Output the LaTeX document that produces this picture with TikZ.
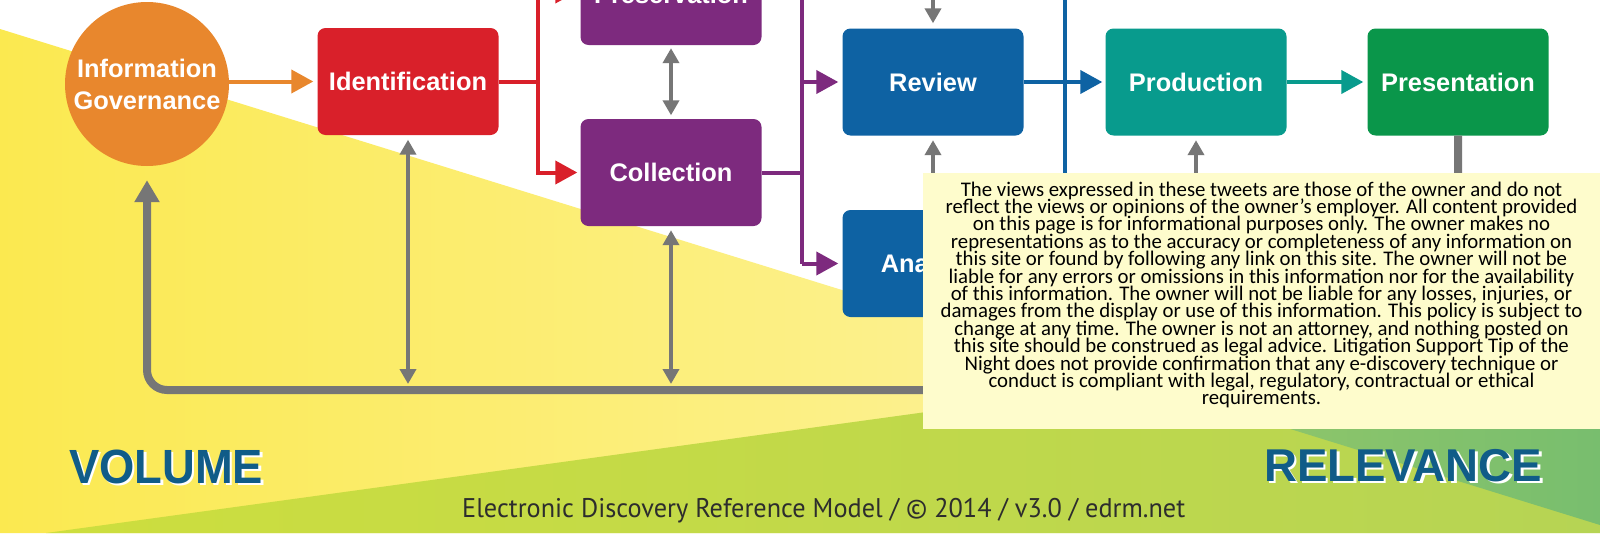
\documentclass[tikz,border=0pt]{standalone}
\usepackage{fontspec}
\usepackage{graphicx}
\usetikzlibrary{arrows.meta}
\newfontfamily\lblfont{Liberation Sans}
\newfontfamily\discfont{Carlito}
\newfontfamily\footfont{PT Sans}
\definecolor{igorange}{RGB}{232,135,45}
\definecolor{idred}{RGB}{217,32,42}
\definecolor{purp}{RGB}{125,42,126}
\definecolor{revblue}{RGB}{14,98,163}
\definecolor{prodteal}{RGB}{8,155,141}
\definecolor{presgreen}{RGB}{10,150,74}
\definecolor{lgray}{RGB}{118,118,118}
\definecolor{yelL}{RGB}{251,233,80}
\definecolor{yelR}{RGB}{253,246,185}
\definecolor{limeL}{RGB}{205,222,62}
\definecolor{limeR}{RGB}{182,212,84}
\definecolor{dgL}{RGB}{150,200,105}
\definecolor{dgR}{RGB}{120,190,110}
\definecolor{discbg}{RGB}{254,252,204}
\definecolor{volblue}{RGB}{16,92,136}
\definecolor{footgray}{RGB}{45,45,45}
\lineskiplimit=-100pt
\begin{document}
\begin{tikzpicture}[x=1pt,y=-1pt,
  stagebox/.style={rectangle, rounded corners=8pt, minimum width=181pt, minimum height=107pt,
    inner sep=0pt, text=white, text height=18pt, text depth=0pt,
    font=\lblfont\bfseries\fontsize{25.4}{30}\selectfont},
  conn/.style={line width=4pt, -{Triangle[length=22pt,width=23pt]}, shorten >=4pt},
  plainline/.style={line width=4pt},
  garrow/.style={line width=4pt, draw=lgray, {Triangle[length=15pt,width=16pt]}-{Triangle[length=15pt,width=16pt]}},
  gup/.style={line width=4pt, draw=lgray, -{Triangle[length=15pt,width=16pt]}},
  loopline/.style={line width=8pt, draw=lgray, rounded corners=20pt, -{Triangle[length=22pt,width=24pt]}},
  bigword/.style={anchor=base west, inner sep=0pt}
]
\useasboundingbox (0,0) rectangle (1600,533);
\clip (0,0) rectangle (1600,533);
% background
\fill[white] (0,0) rectangle (1600,533);
\shade[left color=yelL, right color=yelR] (0,29) -- (1600,525) -- (1600,533) -- (0,533) -- cycle;
\shade[left color=limeL, right color=limeR] (46,533) -- (1600,319.4) -- (1600,533) -- cycle;
\shade[left color=dgL, right color=dgR] (1139.4,382.2) -- (1600,319.4) -- (1600,525) -- cycle;

% nodes
\node[circle, fill=igorange, minimum size=164pt, inner sep=0pt, text=white, align=center,
  font=\lblfont\bfseries\fontsize{25.4}{32}\selectfont] (ig) at (147,84) {Information\\Governance};
\node[stagebox, fill=idred] (ident) at (408,81.5) {Identification};
\node[stagebox, fill=purp, text height=24pt] (pres) at (671,-8.5) {Preservation};
\node[stagebox, fill=purp] (coll) at (671,172.5) {Collection};
\node[stagebox, fill=revblue] (rev) at (933,82) {Review};
\node[stagebox, fill=revblue] (ana) at (933,263.5) {Analysis};
\node[stagebox, fill=prodteal] (prod) at (1196,82) {Production};
\node[stagebox, fill=presgreen] (prest) at (1458,82) {Presentation};

% coordinates
\coordinate (rj) at (538,81.5);
\coordinate (pj) at (802,172.5);
\coordinate (ptop) at (802,-30);
\coordinate (pbot) at (802,263.5);
\coordinate (btop) at (1065,-30);
\coordinate (bbot) at (1065,263.5);
\coordinate (revtop) at (933,-30);
\coordinate (lb) at (147,390);
\coordinate (b1) at (408,390);
\coordinate (b2) at (671,390);
\coordinate (b4) at (1196,390);

% big feedback loop
\draw[loopline, shorten >=14pt] (prest.south) |- (lb) -- (ig.south);

% orange
\draw[conn, draw=igorange, -{Triangle[length=22pt,width=23pt,fill=igorange]}] (ig.east |- ident.west) -- (ident.west);
% red
\draw[plainline, draw=idred] (ident.east) -- (rj);
\draw[conn, draw=idred, -{Triangle[length=22pt,width=23pt,fill=idred]}, shorten >=3pt] (rj) |- (pres.west);
\draw[conn, draw=idred, -{Triangle[length=22pt,width=23pt,fill=idred]}, shorten >=3pt] (rj) |- (coll.west);
% purple
\draw[plainline, draw=purp] (coll.east) -- (pj);
\draw[plainline, draw=purp] (ptop) -- (pbot);
\draw[conn, draw=purp] (pj |- rev.west) -- (rev.west);
\draw[conn, draw=purp] (pbot) -- (ana.west);
% blue
\draw[conn, draw=revblue, shorten >=3pt] (rev.east) -- (prod.west);
\draw[plainline, draw=revblue] (btop) -- (bbot) -- (ana.east);
% teal
\draw[conn, draw=prodteal] (prod.east) -- (prest.west);

% gray arrows
\draw[garrow, shorten <=3pt, shorten >=3.5pt] (pres.south) -- (coll.north);
\draw[garrow, shorten <=4.5pt, shorten >=6pt] (ident.south) -- (b1);
\draw[garrow, shorten <=4pt, shorten >=6pt] (coll.south) -- (b2);
\draw[gup, shorten >=5pt] (revtop) -- (rev.north);
\draw[garrow, shorten <=4.5pt, shorten >=4pt] (rev.south) -- (ana.north);
\draw[gup, shorten >=4.5pt] (b4) -- (prod.south);

% disclaimer
\node[fill=discbg, minimum width=677pt, minimum height=256pt, inner sep=0pt, anchor=north west] (discbox) at (923,173) {};
\node[font=\discfont\fontsize{20.8}{17.4}\selectfont, align=center, inner sep=0pt, text=black] (disc) at (1261.5,295) {%
The views expressed in these tweets are those of the owner and do not\\
reflect the views or opinions of the owner’s employer. All content provided\\
on this page is for informational purposes only. The owner makes no\\
representations as to the accuracy or completeness of any information on\\
this site or found by following any link on this site. The owner will not be\\
liable for any errors or omissions in this information nor for the availability\\
of this information. The owner will not be liable for any losses, injuries, or\\
damages from the display or use of this information. This policy is subject to\\
change at any time. The owner is not an attorney, and nothing posted on\\
this site should be construed as legal advice. Litigation Support Tip of the\\
Night does not provide confirmation that any e-discovery technique or\\
conduct is compliant with legal, regulatory, contractual or ethical\\
requirements.};

% big words
\node[bigword, text=white] (volshadow) at (71.5,485.5) {\resizebox{194pt}{\height}{\lblfont\bfseries\fontsize{48}{50}\selectfont VOLUME}};
\node[bigword, text=volblue] (vol) at (69,483) {\resizebox{194pt}{\height}{\lblfont\bfseries\fontsize{48}{50}\selectfont VOLUME}};
\node[bigword, text=white] (relshadow) at (1266.5,483.5) {\resizebox{278pt}{\height}{\lblfont\bfseries\fontsize{46}{50}\selectfont RELEVANCE}};
\node[bigword, text=volblue] (rel) at (1264,481) {\resizebox{278pt}{\height}{\lblfont\bfseries\fontsize{46}{50}\selectfont RELEVANCE}};

% footer
\node[bigword, text=footgray] (foot) at (462,517) {\resizebox{723pt}{\height}{\footfont\fontsize{27}{30}\selectfont Electronic Discovery Reference Model / © 2014 / v3.0 / edrm.net}};
\end{tikzpicture}
\end{document}
